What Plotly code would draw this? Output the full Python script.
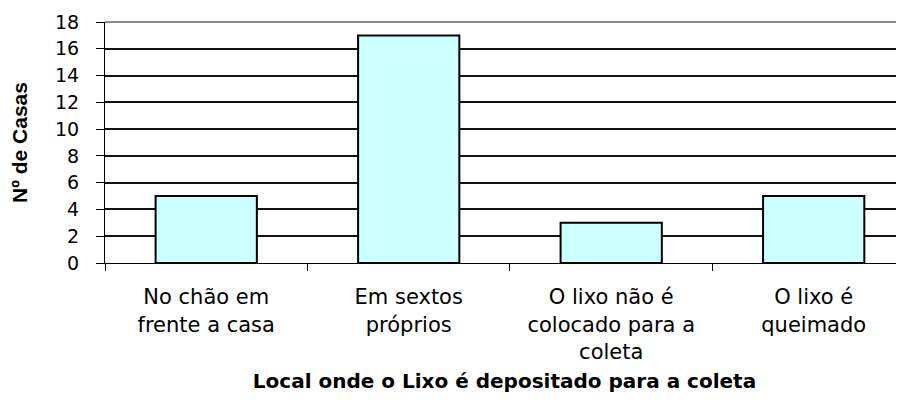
import plotly.graph_objects as go

categories = ["No chão em<br>frente a casa", "Em sextos<br>próprios",
              "O lixo não é<br>colocado para a<br>coleta", "O lixo é<br>queimado"]
values = [5, 17, 3, 5]
y_ticks = list(range(0, 20, 2))

fig = go.Figure(go.Bar(
    x=categories, y=values, width=0.5,
    marker=dict(color="#CCFFFF", line=dict(color="black", width=2)),
))

# page body has an 8px margin: size the figure to fill the rest of the window
fig.update_layout(
    width=896, height=394,
    margin=dict(l=97, r=0, t=14, b=139),
    paper_bgcolor="white", plot_bgcolor="white",
    showlegend=False,
    font=dict(family="DejaVu Sans", color="black"),
    shapes=[dict(type="line", xref="x domain", yref="y domain",
                 x0=0, x1=1, y0=1, y1=1, line=dict(color="#8c8c8c", width=2))],
)
fig.update_xaxes(
    type="category", automargin=False,
    range=[-0.5, len(categories) - 0.5 - 0.054],
    showline=True, linecolor="black", linewidth=1,
    ticks="outside", tickson="boundaries", ticklen=7, tickcolor="black",
    tickfont=dict(family="DejaVu Sans", size=21, color="black"),
    ticklabelstandoff=15,
    showgrid=False,
    title=dict(text="<b>Local onde o Lixo é depositado para a coleta</b>",
               font=dict(family="DejaVu Sans", size=20, color="black"), standoff=11),
)
fig.update_yaxes(
    automargin=False,
    range=[0, 18], tickvals=y_ticks,
    showline=True, linecolor="black", linewidth=1,
    ticks="outside", ticklen=8, tickcolor="black",
    tickfont=dict(family="DejaVu Sans", size=19, color="black"),
    ticklabelstandoff=13,
    showgrid=True, gridcolor="#111111", gridwidth=1.6,
    zeroline=False,
    title=dict(text="<b>Nº de Casas</b>",
               font=dict(family="Liberation Sans", size=21, color="black"), standoff=22),
)

fig.write_html("out.html")
